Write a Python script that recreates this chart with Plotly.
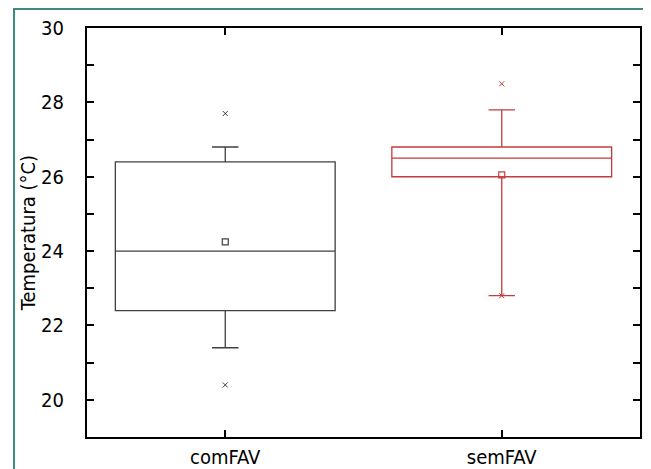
import plotly.graph_objects as go

categories = ["comFAV", "semFAV"]
q1 = [22.4, 26.0]
median = [24.0, 26.5]
q3 = [26.4, 26.8]
lower_whisker = [21.4, 22.8]
upper_whisker = [26.8, 27.8]
mean = [24.25, 26.05]
minimum = [20.4, 22.8]
maximum = [27.7, 28.5]
colors = ["#404040", "#c43c3c"]

y_tickvals = [20, 21, 22, 23, 24, 25, 26, 27, 28, 29, 30]
y_ticktext = ["20", "", "22", "", "24", "", "26", "", "28", "", "30"]

FONT = "DejaVu Sans Condensed, Liberation Sans Narrow, Roboto, sans-serif"

fig = go.Figure()
for i, c in enumerate(categories):
    fig.add_trace(go.Box(
        x=[c], q1=[q1[i]], median=[median[i]], q3=[q3[i]],
        lowerfence=[lower_whisker[i]], upperfence=[upper_whisker[i]],
        boxpoints=False, fillcolor="rgba(255,255,255,0)", width=0.795,
        line=dict(color=colors[i], width=1.3), whiskerwidth=0.12,
        showlegend=False, hoverinfo="skip",
    ))
    fig.add_trace(go.Scatter(
        x=[c], y=[mean[i]], mode="markers",
        marker=dict(symbol="square-open", size=6, color=colors[i], line=dict(width=1.2)),
        showlegend=False,
    ))
    fig.add_trace(go.Scatter(
        x=[c, c], y=[minimum[i], maximum[i]], mode="markers",
        marker=dict(symbol="x-thin", size=5, line=dict(color=colors[i], width=1)),
        showlegend=False,
    ))

# page has an 8px body margin: figure is shifted by 8px
fig.update_layout(
    width=643, height=461,
    margin=dict(l=79, r=11, t=20, b=32),
    paper_bgcolor="white", plot_bgcolor="white",
    font=dict(family=FONT, size=20, color="black"),
    xaxis=dict(
        categoryorder="array", categoryarray=categories,
        range=[-0.5, 1.5], showline=True, linecolor="black", linewidth=2,
        mirror="ticks", ticks="inside", ticklen=7, tickwidth=2, tickcolor="black",
        showgrid=False, zeroline=False, tickfont=dict(size=20),
        automargin=False, ticklabelstandoff=1,
    ),
    yaxis=dict(
        range=[19, 30], tickvals=y_tickvals, ticktext=y_ticktext,
        showline=True, linecolor="black", linewidth=2,
        mirror="ticks", ticks="inside", ticklen=7, tickwidth=2, tickcolor="black",
        showgrid=False, zeroline=False, tickfont=dict(size=20),
        automargin=False, ticklabelstandoff=17,
        title=dict(text="Temperatura (°C)", font=dict(size=20), standoff=0),
    ),
    shapes=[dict(
        type="rect", xref="paper", yref="paper",
        x0=-0.132, x1=1.0072, y0=-0.2, y1=1.0465,
        line=dict(color="#3f8a80", width=2), fillcolor="rgba(0,0,0,0)", layer="below",
    )],
)

fig.write_html("out.html")
